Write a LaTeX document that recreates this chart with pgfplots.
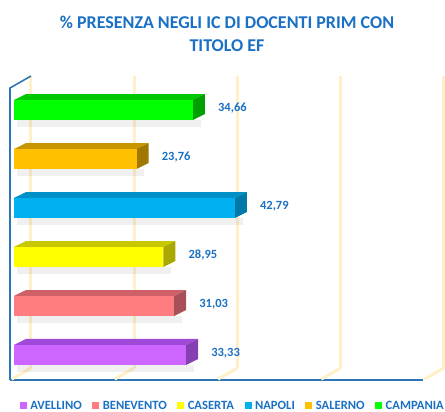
\documentclass[border=0pt]{standalone}
\usepackage{pgfplots}
\pgfplotsset{compat=1.18}
\usepackage{fontspec}
\setmainfont{Carlito}
\definecolor{tblue}{HTML}{1A70C4}
\definecolor{lblue}{HTML}{2E75B6}
\definecolor{cream}{HTML}{FFF0C8}
\definecolor{pF}{HTML}{CC66FF}\definecolor{pT}{HTML}{A048D8}\definecolor{pS}{HTML}{8440B0}
\definecolor{sF}{HTML}{FF7C80}\definecolor{sT}{HTML}{D06068}\definecolor{sS}{HTML}{A85058}
\definecolor{yF}{HTML}{FFFF00}\definecolor{yT}{HTML}{C8C800}\definecolor{yS}{HTML}{A8A800}
\definecolor{bF}{HTML}{00B0F0}\definecolor{bT}{HTML}{0090C8}\definecolor{bS}{HTML}{0078A8}
\definecolor{oF}{HTML}{FFC000}\definecolor{oT}{HTML}{C89600}\definecolor{oS}{HTML}{A07800}
\definecolor{gF}{HTML}{00FF00}\definecolor{gT}{HTML}{00C800}\definecolor{gS}{HTML}{00A000}
\newcommand\sideface[4]{%
  \pgfmathsetmacro\ya{#1-0.2041}%
  \pgfmathsetmacro\yb{#1+0.2041}%
  \pgfmathsetmacro\yc{#1+0.3265}%
  \pgfmathsetmacro\yd{#1-0.0817}%
  \pgfmathsetmacro\xa{#2+2.3245}%
  \pgfmathsetmacro\ys{#1-0.35}%
  \pgfmathsetmacro\xs{#2+1.5}%
  \edef\tmp{%
    \noexpand\addplot[fill=black,fill opacity=0.06,draw=none,forget plot] coordinates {(0.6,\ys) (\xs,\ys) (\xs,\ya) (0.6,\ya)} -- cycle;
    \noexpand\addplot[fill=#3,draw=none,forget plot] coordinates {(0,\yb) (#2,\yb) (\xa,\yc) (2.3245,\yc)} -- cycle;
    \noexpand\addplot[fill=#4,draw=none,forget plot] coordinates {(#2,\ya) (\xa,\yd) (\xa,\yc) (#2,\yb)} -- cycle;
  }\tmp}
\pgfplotsset{
  frontbar/.style={xbar, bar shift=0pt, bar width=20pt, draw=none, fill=#1,
    point meta=x, nodes near coords={\pgfmathprintnumber[fixed,fixed zerofill,precision=2,use comma,assume math mode=true]{\pgfplotspointmeta}},
    every node near coord/.append style={anchor=west, inner sep=0pt, xshift=25pt, yshift=1.5pt,
      font=\bfseries\fontsize{12.5}{15}\selectfont, text=tblue}},
}
\begin{document}
\begin{tikzpicture}
\path[use as bounding box] (0,0) rectangle (445pt,412pt);
\node[font=\bfseries\fontsize{18}{23}\selectfont, text=tblue, align=center] at (227pt,378.5pt)
  {\% PRESENZA NEGLI IC DI DOCENTI PRIM CON\\TITOLO EF};
\begin{axis}[at={(10pt,32pt)}, anchor=south west, scale only axis,
  width=413pt, height=292pt,
  xmin=-0.775, xmax=79.225, ymin=-0.5102, ymax=5.449,
  axis line style={draw=none}, xtick=\empty, ytick=\empty, clip=false,
  legend columns=6,
  legend style={at={(0.539,-0.089)}, anchor=center, draw=none, fill=none,
    font=\bfseries\fontsize{12.6}{14}\selectfont, text=tblue, inner sep=0pt,
    nodes={inner xsep=1.5pt, inner ysep=1pt},
    /tikz/every even column/.append style={column sep=9pt}},
  legend image code/.code={\fill[#1,draw=none] (0pt,-3.5pt) rectangle (7pt,3.5pt);\path (0pt,0pt) -- (9pt,0pt);},
]
% back gridlines and floor
\pgfplotsinvokeforeach{0,0.25,0.5,0.75,1}{
  \draw[cream, line width=3pt] (rel axis cs:#1,0) ++(21pt,12pt) -- ++(0pt,292pt);
}
\draw[lblue, line width=1.6pt] (rel axis cs:0,0) -- (rel axis cs:1,0);
\pgfplotsinvokeforeach{0,0.25,0.5,0.75,1}{
  \draw[cream, line width=3pt] (rel axis cs:#1,0) ++(1.5pt,0.8pt) -- ++(19.5pt,11.2pt);
}
\draw[lblue, line width=1.6pt] (rel axis cs:0,0) -- (rel axis cs:0,1) -- ++(21pt,12pt);
% bars
\sideface{0}{33.33}{pT}{pS}
\addplot[frontbar=pF] coordinates {(33.33,0)};
\addlegendentry{AVELLINO}
\sideface{1}{31.03}{sT}{sS}
\addplot[frontbar=sF] coordinates {(31.03,1)};
\addlegendentry{BENEVENTO}
\sideface{2}{28.95}{yT}{yS}
\addplot[frontbar=yF] coordinates {(28.95,2)};
\addlegendentry{CASERTA}
\sideface{3}{42.79}{bT}{bS}
\addplot[frontbar=bF] coordinates {(42.79,3)};
\addlegendentry{NAPOLI}
\sideface{4}{23.76}{oT}{oS}
\addplot[frontbar=oF] coordinates {(23.76,4)};
\addlegendentry{SALERNO}
\sideface{5}{34.66}{gT}{gS}
\addplot[frontbar=gF] coordinates {(34.66,5)};
\addlegendentry{CAMPANIA}
\end{axis}
\end{tikzpicture}
\end{document}
